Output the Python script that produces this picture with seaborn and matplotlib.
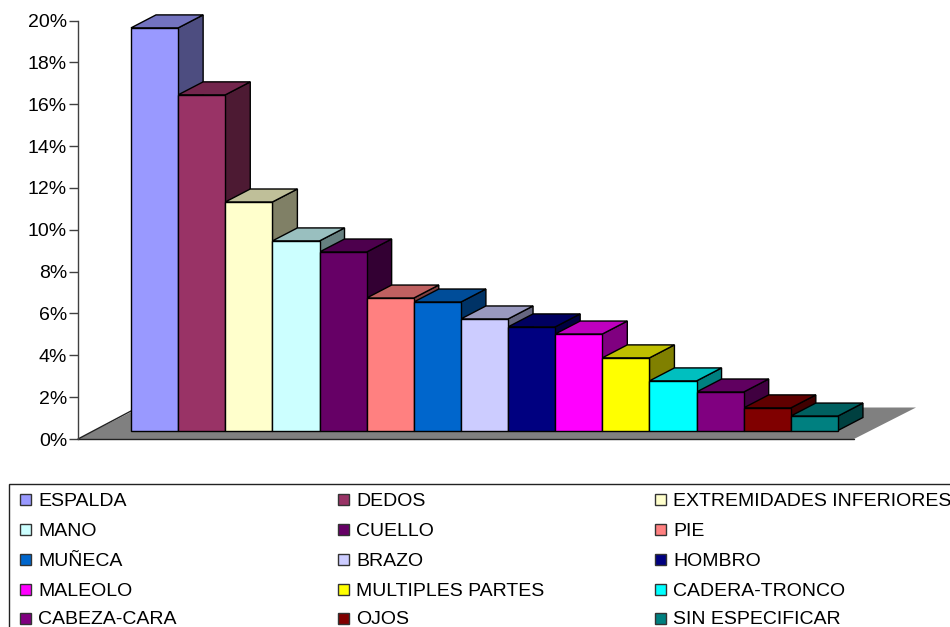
import matplotlib
matplotlib.use("Agg")
import matplotlib.pyplot as plt
from matplotlib.colors import to_rgb
from matplotlib.patches import Polygon, Rectangle
from matplotlib.ticker import FuncFormatter
import seaborn as sns

# values
parts = ["ESPALDA", "DEDOS", "EXTREMIDADES INFERIORES", "MANO", "CUELLO", "PIE",
         "MUÑECA", "BRAZO", "HOMBRO", "MALEOLO", "MULTIPLES PARTES", "CADERA-TRONCO",
         "CABEZA-CARA", "OJOS", "SIN ESPECIFICAR"]
values = [19.24, 16.04, 10.92, 9.06, 8.53, 6.33, 6.14, 5.33, 4.95, 4.61, 3.47, 2.37, 1.84, 1.08, 0.69]
colors = ["#9999FF", "#993366", "#FFFFCC", "#CCFFFF", "#660066", "#FF8080", "#0066CC", "#CCCCFF",
          "#000080", "#FF00FF", "#FFFF00", "#00FFFF", "#800080", "#800000", "#008080"]
y_ticks = [0, 2, 4, 6, 8, 10, 12, 14, 16, 18, 20]

W, H = 950, 627
ax_left, ax_top, ax_bottom = 77.5, 20.5, 439
first_bar_px = 131
bar_px = 47.13
px_per_pct = (ax_bottom - ax_top) / 20

sns.set_theme(style="white")
plt.rcParams["font.family"] = ["Liberation Sans", "DejaVu Sans"]

fig = plt.figure(figsize=(W / 100, H / 100), dpi=100)
ax = fig.add_axes([ax_left / W, 1 - ax_bottom / H, (W - ax_left) / W, (ax_bottom - ax_top) / H])

# bars stand a little behind the front edge of the floor
gap = (ax_bottom - 430.5) / px_per_pct
df = {"part": parts, "value": values}
sns.barplot(data=df, x="part", y="value", hue="part", palette=colors, order=parts, hue_order=parts,
            width=1, legend=False, saturation=1, bottom=gap, edgecolor="black", linewidth=1,
            zorder=5, ax=ax)
bars = list(ax.patches)

ax.set_xlim(-0.5 - (first_bar_px - ax_left) / bar_px, -0.5 + (W - first_bar_px) / bar_px)
ax.set_ylim(0, 20)


def shade(c, f):
    return tuple(v * f for v in to_rgb(c))


def to_x(px):
    return -0.5 + (px - first_bar_px) / bar_px


def to_y(py):
    return (ax_bottom - py) / px_per_pct


# floor
floor = Polygon([(to_x(78), 0), (to_x(854), 0), (to_x(916), to_y(407.5)), (to_x(140), to_y(407.5))],
                facecolor="#808080", edgecolor="none", zorder=1, clip_on=False)
ax.add_patch(floor)
ax.plot([to_x(78), to_x(854)], [0, 0], color="#222222", lw=1, zorder=2, clip_on=False)
ax.plot([to_x(78), to_x(131)], [0, to_y(411)], color="#222222", lw=1, zorder=2, clip_on=False)

# depth faces, taken from the bars seaborn drew
dx = 25 / bar_px
dy = 13 / px_per_pct
for i, bar in enumerate(bars):
    x0, x1 = bar.get_x(), bar.get_x() + bar.get_width()
    y0, y1 = bar.get_y(), bar.get_y() + bar.get_height()
    c = colors[i]
    side = Polygon([(x1, y0), (x1 + dx, y0 + dy), (x1 + dx, y1 + dy), (x1, y1)],
                   facecolor=shade(c, 0.5), edgecolor="black", lw=1, zorder=3 + i * 0.01, clip_on=False)
    top = Polygon([(x0, y1), (x0 + dx, y1 + dy), (x1 + dx, y1 + dy), (x1, y1)],
                  facecolor=shade(c, 0.75), edgecolor="black", lw=1, zorder=3 + i * 0.01, clip_on=False)
    ax.add_patch(side)
    ax.add_patch(top)

ax.set_xticks([])
ax.set_xlabel("")
ax.set_ylabel("")
ax.set_yticks(y_ticks)
ax.yaxis.set_major_formatter(FuncFormatter(lambda v, p: f"{v:.0f}%"))
ax.tick_params(axis="y", left=True, length=6.5, width=1, color="#404040", pad=1,
               labelsize=14, labelcolor="black")
ax.patch.set_alpha(0)
for s in ["top", "right", "bottom"]:
    ax.spines[s].set_visible(False)
ax.spines["left"].set_color("#404040")
ax.spines["left"].set_linewidth(1)

# legend box, it runs off the right and bottom of the picture
px_tf = matplotlib.transforms.Affine2D().scale(1 / W, -1 / H).translate(0, 1) + fig.transFigure
fig.add_artist(Rectangle((8.5, 483.5), 1000, 200, facecolor="white", edgecolor="#222222", lw=1,
                         transform=px_tf))
col_x = [20, 338, 655]
row_y = [499, 529, 559, 589, 618]
for i, (name, c) in enumerate(zip(parts, colors)):
    mx = col_x[i % 3]
    my = row_y[i // 3]
    fig.add_artist(Rectangle((mx, my - 5.5), 11, 11, facecolor=c, edgecolor="#333333", lw=1, transform=px_tf))
    fig.text((mx + 18) / W, 1 - my / H, name, fontsize=14, color="black", va="center_baseline", ha="left")

fig.savefig("out.png", dpi=100)
